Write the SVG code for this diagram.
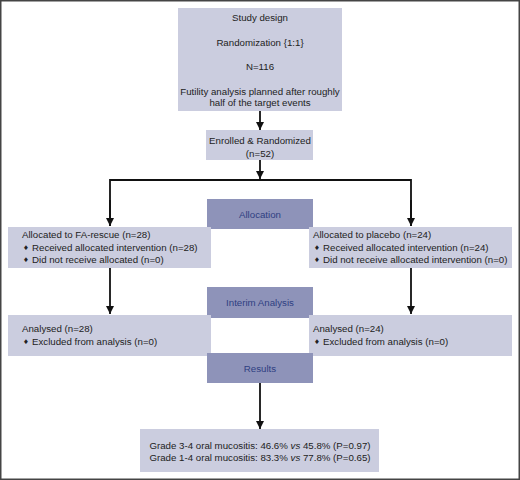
<svg xmlns="http://www.w3.org/2000/svg" width="520" height="480" viewBox="0 0 520 480">
<defs>
<marker id="ah" viewBox="0 0 10 10" refX="10" refY="5" markerWidth="8" markerHeight="8" markerUnits="userSpaceOnUse" orient="auto">
<path d="M0,0 L10,5 L0,10 z" fill="#111"/>
</marker>
<style>
.lb{fill:#cbcddf;}
.db{fill:#8e93b9;}
.t{font-family:"Liberation Sans",Arial,sans-serif;font-size:9.7px;fill:#222;}
.c{text-anchor:middle;}
.h{font-family:"Liberation Sans",Arial,sans-serif;font-size:9.7px;fill:#2f3f82;text-anchor:middle;}
.bl{font-family:"DejaVu Sans",sans-serif;font-size:6.5px;fill:#222;}
.ln{stroke:#111;stroke-width:1.8;fill:none;}
</style>
</defs>
<rect x="0" y="0" width="520" height="480" fill="#fff"/>
<rect x="0.75" y="0.75" width="518.5" height="478.5" fill="none" stroke="#444" stroke-width="1.5"/>

<g id="connectors">
<line class="ln" x1="260" y1="111" x2="260" y2="130" marker-end="url(#ah)"/>
<line class="ln" x1="260" y1="160" x2="260" y2="179" marker-end="url(#ah)"/>
<polyline class="ln" points="110,226 110,180 411,180 411,226"/>
<line class="ln" x1="110" y1="200" x2="110" y2="226" marker-end="url(#ah)"/>
<line class="ln" x1="411" y1="200" x2="411" y2="226" marker-end="url(#ah)"/>
<line class="ln" x1="110" y1="268" x2="110" y2="314" marker-end="url(#ah)"/>
<line class="ln" x1="411" y1="268" x2="411" y2="314" marker-end="url(#ah)"/>
<line class="ln" x1="260" y1="383" x2="260" y2="429" marker-end="url(#ah)"/>
</g>

<g id="study-design">
<rect class="lb" x="178" y="8" width="164" height="103"/>
<text class="t c" x="260" y="21">Study design</text>
<text class="t c" x="260" y="46">Randomization {1:1}</text>
<text class="t c" x="260" y="70">N=116</text>
<text class="t c" x="260" y="95">Futility analysis planned after roughly</text>
<text class="t c" x="260" y="106">half of the target events</text>
</g>

<g id="enrolled">
<rect class="lb" x="206" y="130" width="107" height="30"/>
<text class="t c" x="260" y="144">Enrolled &amp; Randomized</text>
<text class="t c" x="260" y="157">(n=52)</text>
</g>

<g id="allocation">
<rect class="db" x="207" y="199" width="106" height="30"/>
<text class="h" x="260" y="218">Allocation</text>
</g>

<g id="fa-rescue">
<rect class="lb" x="8" y="227" width="203" height="41"/>
<text class="t" x="22" y="238">Allocated to FA-rescue (n=28)</text>
<text class="bl" x="23" y="250">♦</text>
<text class="t" x="32" y="251">Received allocated intervention (n=28)</text>
<text class="bl" x="23" y="262">♦</text>
<text class="t" x="32" y="263">Did not receive allocated (n=0)</text>
</g>

<g id="placebo">
<rect class="lb" x="309" y="227" width="203" height="41"/>
<text class="t" x="313" y="238">Allocated to placebo (n=24)</text>
<text class="bl" x="314" y="250">♦</text>
<text class="t" x="323" y="251">Received allocated intervention (n=24)</text>
<text class="bl" x="314" y="262">♦</text>
<text class="t" x="323" y="263">Did not receive allocated intervention (n=0)</text>
</g>

<g id="interim">
<rect class="db" x="207" y="287" width="106" height="31"/>
<text class="h" x="260" y="306">Interim Analysis</text>
</g>

<g id="analysed-fa">
<rect class="lb" x="8" y="315" width="203" height="41"/>
<text class="t" x="22" y="332">Analysed (n=28)</text>
<text class="bl" x="23" y="344">♦</text>
<text class="t" x="32" y="345">Excluded from analysis (n=0)</text>
</g>

<g id="analysed-placebo">
<rect class="lb" x="309" y="315" width="203" height="41"/>
<text class="t" x="313" y="332">Analysed (n=24)</text>
<text class="bl" x="314" y="344">♦</text>
<text class="t" x="323" y="345">Excluded from analysis (n=0)</text>
</g>

<g id="results">
<rect class="db" x="207" y="353" width="106" height="30"/>
<text class="h" x="260" y="372">Results</text>
</g>

<g id="outcome">
<rect class="lb" x="140" y="429" width="239" height="43"/>
<text class="t c" x="260" y="449">Grade 3-4 oral mucositis: 46.6% <tspan font-style="italic">vs</tspan> 45.8% (P=0.97)</text>
<text class="t c" x="260" y="461">Grade 1-4 oral mucositis: 83.3% <tspan font-style="italic">vs</tspan> 77.8% (P=0.65)</text>
</g>
</svg>
